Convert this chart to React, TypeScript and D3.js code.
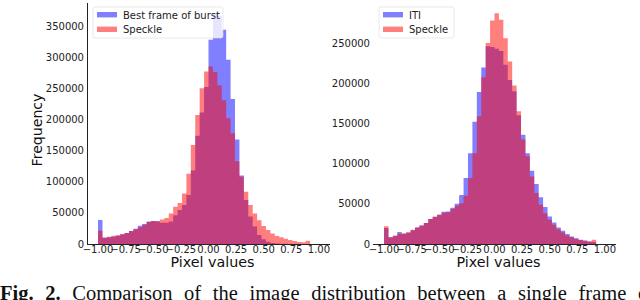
import React from "react";
import { scaleLinear, area, curveStepAfter } from "d3";

// histogram bins: 48 bins of width 0.04 starting at -1
const binStart = -1;
const binWidth = 0.04;

const burstCounts = [
  38500, 10500, 11000, 11700, 13400, 15500, 17600, 20800, 24600, 29400, 32000, 36300,
  36900, 36500, 34200, 34200, 36300, 46000, 54500, 62500, 78500, 118000, 174000, 211000,
  252000, 328000, 370000, 366000, 344000, 296000, 233000, 168000, 110000, 70500, 44000, 28000,
  14400, 7500, 3700, 1600, 800, 500, 300, 200, 150, 100, 100, 100,
];
const speckleLeftCounts = [
  21400, 9500, 11500, 13400, 13900, 15500, 17600, 20800, 23500, 26700, 31000, 35300,
  36900, 36500, 39500, 41700, 49000, 60000, 66000, 81000, 113000, 159000, 207000, 250000,
  277000, 285000, 276000, 255000, 231000, 202000, 178000, 133000, 108000, 84000, 62500, 49000,
  38000, 28800, 22400, 17000, 12800, 10700, 8500, 6400, 4800, 3200, 2700, 5300,
];
const itiCounts = [
  20000, 8500, 10200, 14800, 12400, 14300, 17000, 20600, 23000, 26000, 31000, 33900,
  36300, 40000, 40500, 45000, 50000, 61000, 82000, 113000, 152000, 189000, 219600, 246000,
  245000, 243000, 240000, 223000, 204000, 190000, 160000, 136000, 113000, 91000, 74500, 58300,
  45900, 34200, 26800, 20500, 16400, 12300, 9400, 7300, 5200, 4400, 3000, 2500,
];
const speckleRightCounts = [
  22000, 8500, 10200, 12700, 13500, 14300, 17700, 20600, 23000, 26000, 31000, 33900,
  36300, 38800, 39600, 43400, 47600, 50800, 60000, 82000, 113000, 159000, 207500, 250000,
  278000, 287000, 279000, 256000, 227000, 197000, 165000, 130000, 109000, 84000, 63300, 48800,
  38400, 30100, 23900, 18500, 14300, 10600, 8500, 6500, 5000, 4000, 3000, 5200,
];

const xTicks = [-1, -0.75, -0.5, -0.25, 0, 0.25, 0.5, 0.75, 1];
const leftYTicks = [0, 50000, 100000, 150000, 200000, 250000, 300000, 350000];
const rightYTicks = [0, 50000, 100000, 150000, 200000, 250000];

const FONT = "DejaVu Sans";
const BLUE = "rgba(0,0,255,0.5)";
const RED = "rgba(255,0,0,0.5)";

function fmtX(v: number) {
  const s = Math.abs(v).toFixed(2);
  return v < 0 ? "\u2212" + s : s;
}

function Panel({ x0, x1, yTop, yMax, yTicks, series, labels, yLabel, spine }) {
  const bottom = 244;
  const x = scaleLinear().domain([-1.1, 1.1]).range([x0, x1]);
  const y = scaleLinear().domain([0, yMax]).range([bottom, yTop]);

  const makePath = (counts: number[]) => {
    const pts = counts.map((c, i) => [binStart + i * binWidth, c]);
    pts.push([binStart + counts.length * binWidth, 0]);
    return area<number[]>()
      .x((d) => x(d[0]))
      .y0(y(0))
      .y1((d) => y(d[1]))
      .curve(curveStepAfter)(pts);
  };

  const lx = x0 + 6;
  return (
    <g>
      {series.map((s, i) => (
        <path key={i} d={makePath(s.counts)} fill={s.color} />
      ))}
      {spine && <line x1={x0 + 0.5} x2={x0 + 0.5} y1={yTop} y2={bottom} stroke="#222" strokeWidth={1} />}
      <line x1={x0} x2={x1} y1={bottom + 0.5} y2={bottom + 0.5} stroke="#222" strokeWidth={1} />
      {yTicks.map((t) => (
        <text key={t} x={x0 - 3} y={y(t) + 3.6} textAnchor="end" fontSize={10} fontFamily={FONT} fill="#222">
          {t}
        </text>
      ))}
      {xTicks.map((t) => (
        <text key={t} x={x(t)} y={253} textAnchor="middle" fontSize={10} fontFamily={FONT} fill="#222">
          {fmtX(t)}
        </text>
      ))}
      <text x={(x0 + x1) / 2 + 4} y={267} textAnchor="middle" fontSize={14.3} fontFamily={FONT} fill="#111">
        Pixel values
      </text>
      {yLabel && (
        <text transform={`translate(42,130) rotate(-90)`} textAnchor="middle" fontSize={14.1} fontFamily={FONT} fill="#111">
          {yLabel}
        </text>
      )}
      <rect
        x={lx}
        y={7}
        width={labels.w}
        height={31}
        rx={2}
        fill="white"
        fillOpacity={0.8}
        stroke="#ddd"
        strokeOpacity={0.8}
        strokeWidth={0.8}
      />
      {series.map((s, i) => (
        <g key={i}>
          <rect x={lx + 4} y={12 + i * 14.6} width={20} height={5.4} fill={s.color} />
          <text x={lx + 30} y={18.5 + i * 14.6} fontSize={10} fontFamily={FONT} fill="#222">
            {s.name}
          </text>
        </g>
      ))}
    </g>
  );
}

export default function App() {
  return (
    <svg
      width={640}
      height={300}
      style={{ position: "absolute", left: 0, top: 0, background: "white" }}
    >
      <Panel
        x0={87}
        x1={330}
        yTop={3}
        yMax={387000}
        yTicks={leftYTicks}
        yLabel="Frequency"
        spine={true}
        labels={{ w: 130 }}
        series={[
          { name: "Best frame of burst", counts: burstCounts, color: BLUE },
          { name: "Speckle", counts: speckleLeftCounts, color: RED },
        ]}
      />
      <Panel
        x0={373}
        x1={616}
        yTop={2}
        yMax={301000}
        yTicks={rightYTicks}
        yLabel={null}
        spine={false}
        labels={{ w: 75 }}
        series={[
          { name: "ITI", counts: itiCounts, color: BLUE },
          { name: "Speckle", counts: speckleRightCounts, color: RED },
        ]}
      />
      <text x={0} y={300} fontSize={20.5} wordSpacing={6.5} fontFamily="Liberation Serif" fill="#111">
        <tspan fontWeight="bold">Fig. 2.</tspan>
        <tspan> Comparison of the image distribution between a single frame of burst and speckle</tspan>
      </text>
    </svg>
  );
}
